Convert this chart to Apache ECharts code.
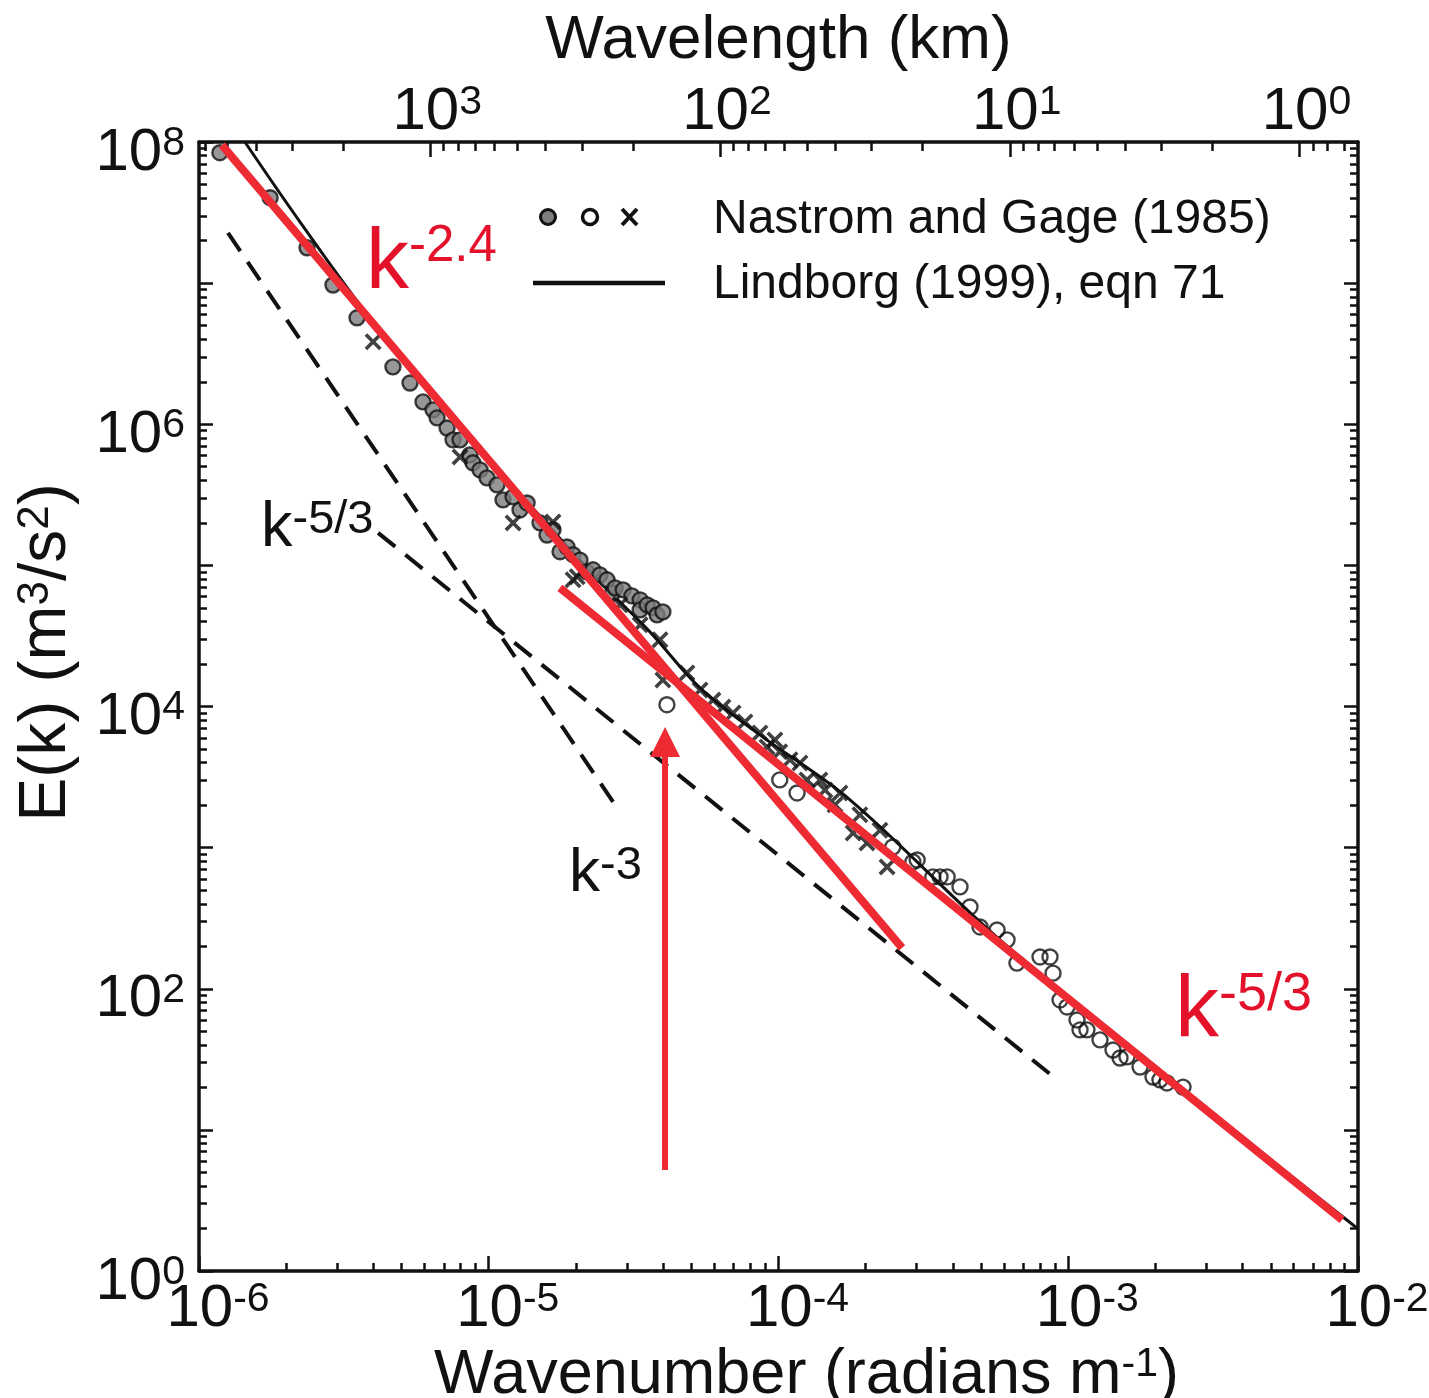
<!DOCTYPE html>
<html>
<head>
<meta charset="utf-8">
<title>Atmospheric kinetic energy spectrum</title>
<script src="https://cdn.jsdelivr.net/npm/echarts@6/dist/echarts.min.js"></script>
<style>
  html, body { margin: 0; padding: 0; background: #ffffff; }
  #chart { width: 1429px; height: 1398px; }
</style>
</head>
<body>
<div id="chart"></div>
<script>
// ---- axis ranges ----
const K_MIN = 1e-6, K_MAX = 1e-2;          // wavenumber, radians per metre
const E_MIN = 1, E_MAX = 1e8;              // spectral energy, m^3/s^2
// wavelength (km) that matches each end of the wavenumber axis
const LAMBDA_AT_KMAX = 2 * Math.PI / K_MAX / 1000;
const LAMBDA_AT_KMIN = 2 * Math.PI / K_MIN / 1000;

// ---- tick values ----
const kMajorTicks = [1e-6, 1e-5, 1e-4, 1e-3, 1e-2];
const eMajorTicks = [1, 1e1, 1e2, 1e3, 1e4, 1e5, 1e6, 1e7, 1e8];
const eLabelTicks = [1, 1e2, 1e4, 1e6, 1e8];
const lambdaMajorTicks = [1, 10, 100, 1000];

// ---- Nastrom and Gage (1985) observations ----
// filled (grey) circles
const greyK = [1.18e-6, 1.76e-6, 2.36e-6, 2.90e-6, 3.51e-6, 4.67e-6, 5.35e-6, 5.93e-6, 6.42e-6, 6.63e-6,
  7.18e-6, 7.53e-6, 7.96e-6, 8.61e-6, 8.82e-6, 9.33e-6, 9.86e-6, 1.068e-5, 1.120e-5, 1.213e-5,
  1.282e-5, 1.356e-5, 1.503e-5, 1.589e-5, 1.666e-5, 1.762e-5, 1.862e-5, 1.954e-5, 2.065e-5, 2.18e-5,
  2.29e-5, 2.42e-5, 2.56e-5, 2.68e-5, 2.73e-5, 2.91e-5, 3.12e-5, 3.33e-5, 3.33e-5, 3.52e-5,
  3.69e-5, 3.81e-5, 3.99e-5];
const greyE = [8.4e7, 4.03e7, 1.78e7, 9.7e6, 5.68e6, 2.55e6, 1.96e6, 1.44e6, 1.265e6, 1.11e6,
  9.4e5, 7.75e5, 7.75e5, 6.07e5, 5.33e5, 4.75e5, 4.17e5, 3.72e5, 2.91e5, 3.06e5,
  2.47e5, 2.77e5, 2.0e5, 1.64e5, 1.79e5, 1.25e5, 1.35e5, 1.19e5, 1.09e5, 9.0e4,
  9.3e4, 8.57e4, 7.9e4, 6.38e4, 6.93e4, 6.7e4, 6.08e4, 5.7e4, 4.84e4, 5.25e4,
  5.0e4, 4.46e4, 4.68e4];
// crosses
const crossK = [3.99e-6, 7.96e-6, 1.213e-5, 1.666e-5, 1.954e-5, 2.02e-5, 2.84e-5, 3.33e-5, 3.90e-5, 3.99e-5,
  4.83e-5, 5.36e-5, 5.94e-5, 6.43e-5, 6.97e-5, 7.66e-5, 8.63e-5, 9.13e-5, 9.72e-5, 1.01e-4,
  1.096e-4, 1.186e-4, 1.254e-4, 1.39e-4, 1.447e-4, 1.567e-4, 1.63e-4, 1.81e-4, 1.91e-4, 2.02e-4,
  2.24e-4, 2.37e-4];
const crossE = [3.84e6, 5.87e5, 2.0e5, 2.03e5, 7.9e4, 8.3e4, 5.25e4, 3.79e4, 2.97e4, 1.54e4,
  1.73e4, 1.31e4, 1.11e4, 9.9e3, 9.0e3, 7.78e3, 6.5e3, 5.17e3, 5.8e3, 4.77e3,
  4.19e3, 3.98e3, 3.02e3, 3.02e3, 2.56e3, 2.01e3, 2.44e3, 1.27e3, 1.71e3, 1.08e3,
  1.33e3, 730];
// open circles
const openK = [4.12e-5, 1.01e-4, 1.159e-4, 2.48e-4, 2.91e-4, 3.01e-4, 3.41e-4, 3.61e-4, 3.82e-4, 4.23e-4,
  4.58e-4, 4.96e-4, 5.68e-4, 6.15e-4, 6.65e-4, 7.99e-4, 8.65e-4, 8.86e-4, 9.37e-4, 9.90e-4,
  1.072e-3, 1.098e-3, 1.16e-3, 1.287e-3, 1.427e-3, 1.509e-3, 1.595e-3, 1.769e-3, 1.961e-3, 2.073e-3,
  2.19e-3, 2.49e-3];
const openE = [1.03e4, 3.02e3, 2.44e3, 1.01e3, 792, 818, 620, 620, 620, 527,
  380, 274, 261, 222, 152, 168, 168, 129, 83.3, 74.3,
  60.1, 51.1, 51.1, 43.4, 36.8, 32.3, 32.9, 27.9, 23.7, 22.6,
  21.5, 20.1];

// ---- Lindborg (1999) eqn 71 curve ----
const lindborgK = [1.44e-6, 2.23e-6, 3.89e-6, 7.35e-6, 1.388e-5, 2.42e-5, 3.60e-5, 5.36e-5, 8.63e-5,
  1.765e-4, 5.81e-4, 1.914e-3, 6.31e-3, 1e-2];
const lindborgE = [1.0e8, 2.72e7, 5.68e6, 1.22e6, 2.68e5, 7.64e4, 3.38e4, 1.355e4, 6.29e3,
  2.18e3, 222, 30.3, 4.2, 1.99];

// ---- dashed reference slopes ----
const dashSteepK = [1.259e-6, 2.73e-5];
const dashSteepE = [2.27e7, 2009];
const dashShallowK = [4.15e-6, 9.0e-4];
const dashShallowE = [1.70e5, 23.3];

// ---- red fitted slopes and marker arrow ----
const fitSteepK = [1.2e-6, 2.67e-4];      // k^-2.4
const fitSteepE = [9.5e7, 195];
const fitShallowK = [1.76e-5, 8.81e-3];   // k^-5/3
const fitShallowE = [6.92e4, 2.30];
const arrowK = [4.06e-5, 4.06e-5];
const arrowE = [5.2, 5600];

const zip = (xs, ys) => xs.map((x, i) => [x, ys[i]]);

function minorTicks(lo, hi) {
  const out = [];
  for (let d = Math.floor(Math.log10(lo)) - 1; d <= Math.ceil(Math.log10(hi)); d++) {
    for (let m = 2; m <= 9; m++) {
      const v = m * Math.pow(10, d);
      if (v > lo * 1.0001 && v < hi * 0.9999) out.push(v);
    }
  }
  return out;
}

const FONT = '"Liberation Sans", Arial, Helvetica, sans-serif';
const INK = '#111111';
const RED = '#ee2a33';
const RED_TEXT = '#e4112b';
const CROSS = 'path://M0,1.5 L1.5,0 L5,3.5 L8.5,0 L10,1.5 L6.5,5 L10,8.5 L8.5,10 L5,6.5 L1.5,10 L0,8.5 L3.5,5 Z';

function powLabel(v) {
  const e = Math.round(Math.log10(v));
  return '{p| }{b|10}{s|' + e + '}';
}
function labelRich(pad) {
  return {
    p: { width: pad, fontSize: 10 },
    b: { fontSize: 60, lineHeight: 60, fontFamily: FONT, color: INK, verticalAlign: 'bottom' },
    s: { fontSize: 41, lineHeight: 41, fontFamily: FONT, color: INK, verticalAlign: 'top' }
  };
}
const supRich = { s: { fontSize: 41, lineHeight: 41, fontFamily: FONT, color: INK, verticalAlign: 'top' } };

const frameLine = { show: true, onZero: false, lineStyle: { color: INK, width: 3.5 } };
const tickStyle = { color: INK, width: 2.5 };

function minorAxis(base, ticks, len) {
  return Object.assign({}, base, {
    axisLine: { show: false },
    axisTick: { show: true, inside: true, length: len, lineStyle: tickStyle, customValues: ticks },
    axisLabel: { show: false },
    splitLine: { show: false },
    name: ''
  });
}

const bottomBase = { type: 'log', gridIndex: 0, position: 'bottom', min: K_MIN, max: K_MAX };
const topBase = { type: 'log', gridIndex: 0, position: 'top', inverse: true, min: LAMBDA_AT_KMAX, max: LAMBDA_AT_KMIN };
const leftBase = { type: 'log', gridIndex: 0, position: 'left', min: E_MIN, max: E_MAX };
const rightBase = { type: 'log', gridIndex: 0, position: 'right', min: E_MIN, max: E_MAX };

const option = {
  animation: false,
  backgroundColor: '#ffffff',
  grid: { left: 199, top: 142, width: 1159, height: 1129, containLabel: false, outerBoundsMode: 'none' },
  xAxis: [
    Object.assign({}, bottomBase, {
      axisLine: frameLine,
      axisTick: { show: true, inside: true, length: 15, lineStyle: tickStyle, customValues: kMajorTicks },
      axisLabel: { show: true, customValues: kMajorTicks, margin: 8, formatter: powLabel, rich: labelRich(38) },
      splitLine: { show: false },
      name: 'Wavenumber (radians m{s|-1})',
      nameLocation: 'middle',
      nameGap: 64,
      nameTextStyle: { fontSize: 63, fontFamily: FONT, color: INK, padding: [0, 0, 0, 56], rich: supRich }
    }),
    minorAxis(bottomBase, minorTicks(K_MIN, K_MAX), 8),
    Object.assign({}, topBase, {
      axisLine: frameLine,
      axisTick: { show: true, inside: true, length: 15, lineStyle: tickStyle, customValues: lambdaMajorTicks },
      axisLabel: { show: true, customValues: lambdaMajorTicks, margin: 0, formatter: powLabel, rich: labelRich(14) },
      splitLine: { show: false },
      name: 'Wavelength (km)',
      nameLocation: 'middle',
      nameGap: 70,
      nameTextStyle: { fontSize: 62, fontFamily: FONT, color: INK }
    }),
    minorAxis(topBase, minorTicks(LAMBDA_AT_KMAX, LAMBDA_AT_KMIN), 9)
  ],
  yAxis: [
    Object.assign({}, leftBase, {
      axisLine: frameLine,
      axisTick: { show: true, inside: true, length: 14, lineStyle: tickStyle, customValues: eMajorTicks },
      axisLabel: { show: true, customValues: eLabelTicks, margin: 14, padding: [22, 0, 0, 0],
        formatter: v => '{b|10}{s|' + Math.round(Math.log10(v)) + '}', rich: labelRich(0) },
      splitLine: { show: false },
      name: 'E(k) (m{s|3}/s{s|2})',
      nameLocation: 'middle',
      nameRotate: 90,
      nameGap: 119,
      nameTextStyle: { fontSize: 66, fontFamily: FONT, color: INK, padding: [0, 0, 0, 108],
        rich: { s: { fontSize: 44, lineHeight: 44, fontFamily: FONT, color: INK, verticalAlign: 'top' } } }
    }),
    minorAxis(leftBase, minorTicks(E_MIN, E_MAX), 8),
    Object.assign({}, rightBase, {
      axisLine: frameLine,
      axisTick: { show: true, inside: true, length: 14, lineStyle: tickStyle, customValues: eMajorTicks },
      axisLabel: { show: false },
      splitLine: { show: false }
    }),
    minorAxis(rightBase, minorTicks(E_MIN, E_MAX), 8)
  ],
  series: [
    {
      name: 'Lindborg (1999), eqn 71', type: 'line', xAxisIndex: 0, yAxisIndex: 0,
      data: zip(lindborgK, lindborgE), showSymbol: false, symbol: 'none', smooth: 0.35,
      lineStyle: { color: INK, width: 3 }, z: 3
    },
    {
      name: 'k^-3 reference', type: 'line', xAxisIndex: 0, yAxisIndex: 0,
      data: zip(dashSteepK, dashSteepE), symbol: 'none',
      lineStyle: { color: INK, width: 4, type: [22, 13] }, z: 2
    },
    {
      name: 'k^-5/3 reference', type: 'line', xAxisIndex: 0, yAxisIndex: 0,
      data: zip(dashShallowK, dashShallowE), symbol: 'none',
      lineStyle: { color: INK, width: 4, type: [22, 13] }, z: 2
    },
    {
      name: 'Nastrom and Gage (1985)', type: 'scatter', xAxisIndex: 0, yAxisIndex: 0,
      data: zip(greyK, greyE), symbol: 'circle', symbolSize: 15,
      itemStyle: { color: '#7d7d7d', borderColor: INK, borderWidth: 2.4 }, z: 4
    },
    {
      name: 'Nastrom and Gage (1985) open', type: 'scatter', xAxisIndex: 0, yAxisIndex: 0,
      data: zip(openK, openE), symbol: 'circle', symbolSize: 15,
      itemStyle: { color: 'rgba(255,255,255,0)', borderColor: INK, borderWidth: 2.4 }, z: 4
    },
    {
      name: 'Nastrom and Gage (1985) cross', type: 'scatter', xAxisIndex: 0, yAxisIndex: 0,
      data: zip(crossK, crossE), symbol: CROSS, symbolSize: 17,
      itemStyle: { color: INK }, z: 4
    },
    {
      name: 'k^-2.4 fit', type: 'line', xAxisIndex: 0, yAxisIndex: 0,
      data: zip(fitSteepK, fitSteepE), symbol: 'none',
      lineStyle: { color: RED, width: 8, cap: 'butt' }, z: 6
    },
    {
      name: 'k^-5/3 fit', type: 'line', xAxisIndex: 0, yAxisIndex: 0,
      data: zip(fitShallowK, fitShallowE), symbol: 'none',
      lineStyle: { color: RED, width: 8, cap: 'butt' }, z: 6
    },
    {
      name: 'transition marker', type: 'lines', coordinateSystem: 'cartesian2d', xAxisIndex: 0, yAxisIndex: 0,
      data: [{ coords: zip(arrowK, arrowE) }],
      symbol: ['none', 'triangle'], symbolSize: [0, 30],
      lineStyle: { color: RED, width: 6, opacity: 1 }, itemStyle: { color: RED }, z: 7
    }
  ],
  graphic: [
    // legend
    { type: 'circle', shape: { cx: 548, cy: 217, r: 7.5 }, style: { fill: '#7d7d7d', stroke: INK, lineWidth: 3 }, z: 10 },
    { type: 'circle', shape: { cx: 590, cy: 217, r: 7.5 }, style: { fill: '#ffffff', stroke: INK, lineWidth: 3.5 }, z: 10 },
    { type: 'line', shape: { x1: 622, y1: 209, x2: 637, y2: 225 }, style: { stroke: INK, lineWidth: 4 }, z: 10 },
    { type: 'line', shape: { x1: 637, y1: 209, x2: 622, y2: 225 }, style: { stroke: INK, lineWidth: 4 }, z: 10 },
    { type: 'text', x: 713, y: 220, z: 10,
      style: { text: 'Nastrom and Gage (1985)', font: '48px ' + FONT, fill: INK, verticalAlign: 'middle', textVerticalAlign: 'middle' } },
    { type: 'line', shape: { x1: 533, y1: 283, x2: 665, y2: 283 }, style: { stroke: INK, lineWidth: 4.5 }, z: 10 },
    { type: 'text', x: 713, y: 285, z: 10,
      style: { text: 'Lindborg (1999), eqn 71', font: '48px ' + FONT, fill: INK, verticalAlign: 'middle', textVerticalAlign: 'middle' } },
    // slope annotations
    { type: 'text', x: 366, y: 221, z: 10,
      style: { text: '{k|k}{s|-2.4}', fill: RED_TEXT, verticalAlign: 'top', textVerticalAlign: 'top',
        rich: { k: { fontSize: 86, lineHeight: 86, fontFamily: FONT, color: RED_TEXT, verticalAlign: 'bottom' },
                s: { fontSize: 51, lineHeight: 64, fontFamily: FONT, color: RED_TEXT, verticalAlign: 'top' } } } },
    { type: 'text', x: 1175, y: 968, z: 10,
      style: { text: '{k|k}{s|-5/3}', fill: RED_TEXT, verticalAlign: 'top', textVerticalAlign: 'top',
        rich: { k: { fontSize: 88, lineHeight: 88, fontFamily: FONT, color: RED_TEXT, verticalAlign: 'bottom' },
                s: { fontSize: 54, lineHeight: 64, fontFamily: FONT, color: RED_TEXT, verticalAlign: 'top' } } } },
    { type: 'text', x: 261, y: 497, z: 10,
      style: { text: '{k|k}{s|-5/3}', fill: INK, verticalAlign: 'top', textVerticalAlign: 'top',
        rich: { k: { fontSize: 63, lineHeight: 63, fontFamily: FONT, color: INK, verticalAlign: 'bottom' },
                s: { fontSize: 47, lineHeight: 48, fontFamily: FONT, color: INK, verticalAlign: 'top' } } } },
    { type: 'text', x: 569, y: 843, z: 10,
      style: { text: '{k|k}{s|-3}', fill: INK, verticalAlign: 'top', textVerticalAlign: 'top',
        rich: { k: { fontSize: 62, lineHeight: 62, fontFamily: FONT, color: INK, verticalAlign: 'bottom' },
                s: { fontSize: 47, lineHeight: 48, fontFamily: FONT, color: INK, verticalAlign: 'top' } } } }
  ]
};

const chart = echarts.init(document.getElementById('chart'), null, { renderer: 'canvas' });
chart.setOption(option);
</script>
</body>
</html>
